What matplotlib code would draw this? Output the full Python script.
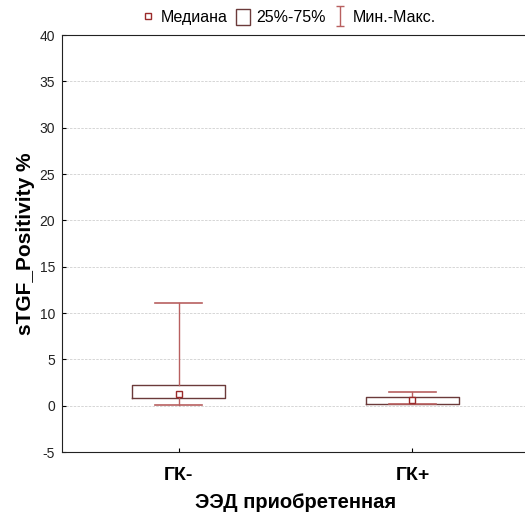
import numpy as np
import matplotlib.pyplot as plt
from matplotlib.lines import Line2D
from matplotlib.patches import Rectangle
from matplotlib.path import Path

plt.rcParams['font.family'] = ['Liberation Sans', 'DejaVu Sans']
plt.rcParams['axes.unicode_minus'] = False

groups = ['ГК-', 'ГК+']
medians = [1.3, 0.6]
q1 = [0.85, 0.2]
q3 = [2.2, 0.9]
mins = [0.05, 0.15]
maxs = [11.1, 1.5]

box_col = '#6b3a3a'
whisk_col = '#b86060'
med_col = '#9a2a2a'

fig = plt.figure(figsize=(5.25, 5.15), dpi=100)
ax = fig.add_axes([0.118, 0.122, 0.89, 0.81])

stats = []
for i in range(len(groups)):
    stats.append({'med': medians[i], 'q1': q1[i], 'q3': q3[i],
                  'whislo': mins[i], 'whishi': maxs[i], 'label': groups[i]})

pos = np.arange(len(groups))
ax.bxp(stats, positions=pos, widths=0.4, showfliers=False,
       boxprops=dict(color=box_col, linewidth=1.0),
       whiskerprops=dict(color=whisk_col, linewidth=1.0),
       capprops=dict(color=whisk_col, linewidth=1.2),
       medianprops=dict(linewidth=0), capwidths=0.2)
ax.plot(pos, medians, 's', ms=5, mfc='white', mec=med_col, mew=1.0, zorder=5)

ax.set_xlim(-0.5, 1.5)
ax.set_ylim(-5, 40)
ax.set_yticks(np.arange(-5, 41, 5))
ax.yaxis.grid(True, color='#d0d0d0', linestyle=(0, (3, 1.5)), linewidth=0.6)
ax.set_axisbelow(True)
ax.spines['right'].set_visible(False)
for s in ax.spines.values():
    s.set_color('#222222')
ax.tick_params(axis='y', labelsize=10, length=3, direction='in',
               labelcolor='#222222', pad=5)
ax.tick_params(axis='x', labelsize=14, length=3, direction='in', pad=11)
ax.set_xticks(pos)
ax.set_xticklabels(groups, fontweight='bold')
ax.set_xlabel('ЭЭД приобретенная', fontsize=14.5, fontweight='bold', labelpad=6)
ax.set_ylabel('sTGF_Positivity %', fontsize=15, fontweight='bold', labelpad=3.5)

# I-shaped marker for the min-max legend entry
i_path = Path([(-0.4, 1), (0.4, 1), (0, 1), (0, -1), (-0.4, -1), (0.4, -1)],
              [Path.MOVETO, Path.LINETO, Path.MOVETO, Path.LINETO,
               Path.MOVETO, Path.LINETO])
h_med = Line2D([], [], marker='s', ms=5, mfc='white', mec=med_col, mew=1.0, ls='none')
h_box = Rectangle((0, 0), 1, 1, fc='white', ec=box_col, lw=1.0)
h_mm = Line2D([], [], marker=i_path, ms=14, mfc='none', mec=whisk_col,
              mew=1.0, ls='none')
fig.legend([h_med, h_box, h_mm], ['Медиана', '25%-75%', 'Мин.-Макс.'],
           loc='upper center', bbox_to_anchor=(0.55, 1.01), ncol=3,
           frameon=False, fontsize=11.5, handlelength=0.9,
           handletextpad=0.35, columnspacing=0.5, handleheight=1.1)

fig.savefig('out.png', dpi=100)
